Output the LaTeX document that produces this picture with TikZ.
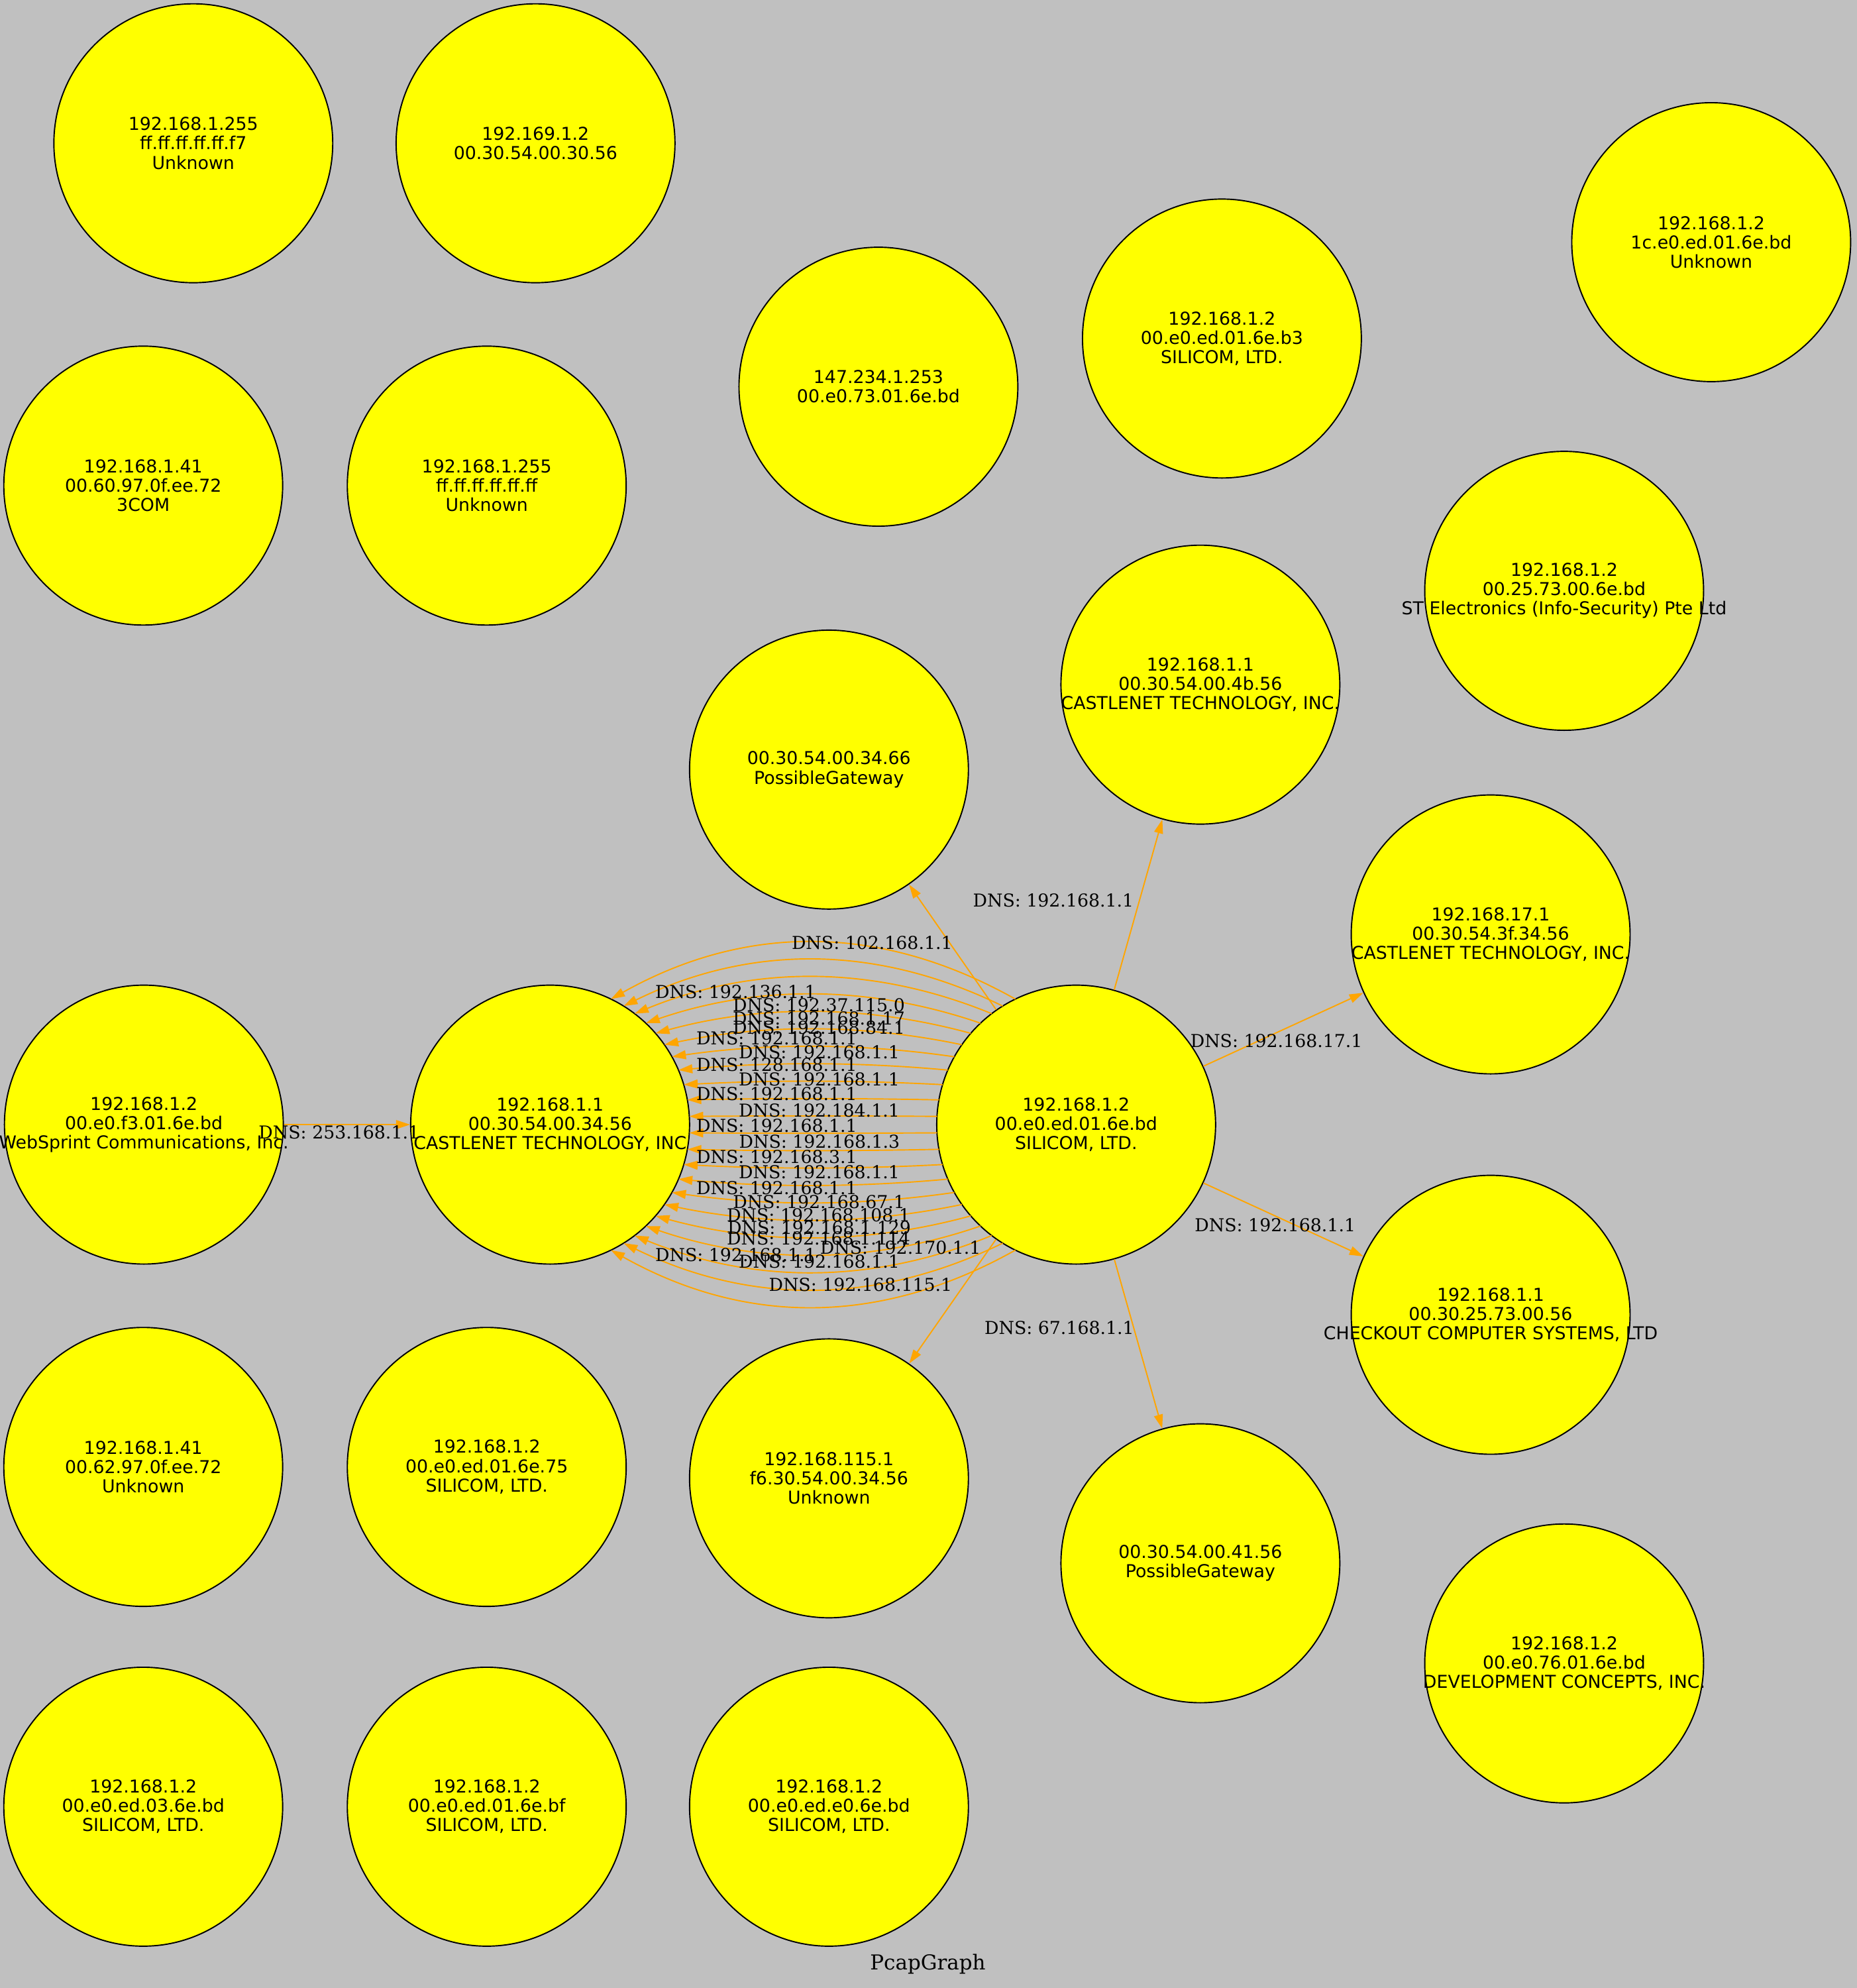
\documentclass[tikz,border=0pt]{standalone}
\usepackage{fontspec}
\setmainfont{DejaVu Sans}
\newfontfamily\lblfont{DejaVu Serif}
\usetikzlibrary{arrows.meta,calc}
\definecolor{bggray}{HTML}{C0C0C0}
\definecolor{nodeyellow}{HTML}{FFFF00}
\definecolor{edgeorange}{HTML}{FFA500}
\tikzset{
 hosttext/.style={align=center,inner sep=0pt,font=\fontsize{14}{15.2}\selectfont},
 host/.style={circle,draw=black,line width=1pt,fill=nodeyellow,minimum size=220pt,inner sep=0pt,
   label={[hosttext]center:#1}},
 dns/.style={draw=edgeorange,line width=1pt,-{Triangle[length=11pt,width=7pt]}},
 dnslabel/.style={font=\lblfont\fontsize{14}{15}\selectfont,inner sep=0pt},
 titlelabel/.style={font=\lblfont\fontsize{16.2}{17}\selectfont,inner sep=0pt},
}
\begin{document}
\begin{tikzpicture}[x=1pt,y=-1pt]
\fill[bggray] (0,0) rectangle (1465,1568);
\useasboundingbox (0,0) rectangle (1465,1568);
% hosts
\node[host={192.168.1.255\\ff.ff.ff.ff.ff.f7\\Unknown}] (n1) at (152.5,113) {};
\node[host={192.169.1.2\\00.30.54.00.30.56}] (n2) at (422.5,113) {};
\node[host={192.168.1.2\\1c.e0.ed.01.6e.bd\\Unknown}] (n3) at (1350,191) {};
\node[host={192.168.1.2\\00.e0.ed.01.6e.b3\\SILICOM, LTD.}] (n4) at (964,267) {};
\node[host={147.234.1.253\\00.e0.73.01.6e.bd}] (n5) at (693,305) {};
\node[host={192.168.1.41\\00.60.97.0f.ee.72\\3COM}] (n6) at (113,383) {};
\node[host={192.168.1.255\\ff.ff.ff.ff.ff.ff\\Unknown}] (n7) at (384,383) {};
\node[host={192.168.1.2\\00.25.73.00.6e.bd\\ST Electronics (Info-Security) Pte Ltd}] (n8) at (1234,466) {};
\node[host={192.168.1.1\\00.30.54.00.4b.56\\CASTLENET TECHNOLOGY, INC.}] (n9) at (947,540) {};
\node[host={00.30.54.00.34.66\\PossibleGateway}] (n10) at (654,607) {};
\node[host={192.168.17.1\\00.30.54.3f.34.56\\CASTLENET TECHNOLOGY, INC.}] (n11) at (1176,737) {};
\node[host={192.168.1.2\\00.e0.f3.01.6e.bd\\WebSprint Communications, Inc.}] (n12) at (113.5,887) {};
\node[host={192.168.1.1\\00.30.54.00.34.56\\CASTLENET TECHNOLOGY, INC}] (n13) at (434,887) {};
\node[host={192.168.1.2\\00.e0.ed.01.6e.bd\\SILICOM, LTD.}] (n14) at (849,887) {};
\node[host={192.168.1.1\\00.30.25.73.00.56\\CHECKOUT COMPUTER SYSTEMS, LTD}] (n15) at (1176,1037) {};
\node[host={192.168.1.41\\00.62.97.0f.ee.72\\Unknown}] (n16) at (113,1157) {};
\node[host={192.168.1.2\\00.e0.ed.01.6e.75\\SILICOM, LTD.}] (n17) at (384,1157) {};
\node[host={192.168.115.1\\f6.30.54.00.34.56\\Unknown}] (n18) at (654,1166) {};
\node[host={00.30.54.00.41.56\\PossibleGateway}] (n19) at (947,1233) {};
\node[host={192.168.1.2\\00.e0.76.01.6e.bd\\DEVELOPMENT CONCEPTS, INC.}] (n20) at (1234,1312) {};
\node[host={192.168.1.2\\00.e0.ed.03.6e.bd\\SILICOM, LTD.}] (n21) at (113,1425) {};
\node[host={192.168.1.2\\00.e0.ed.01.6e.bf\\SILICOM, LTD.}] (n22) at (384,1425) {};
\node[host={192.168.1.2\\00.e0.ed.e0.6e.bd\\SILICOM, LTD.}] (n23) at (654,1425) {};
% straight edges
\draw[dns] (n14) -- (n10);
\draw[dns] (n14) -- (n9);
\draw[dns] (n14) -- (n11);
\draw[dns] (n14) -- (n15);
\draw[dns] (n14) -- (n19);
\draw[dns] (n14) -- (n18);
\draw[dns] (n12) -- (n13);
% bundle of curved edges n14 -> n13
\foreach \e/\p in {-6.5/-6.8,-19.5/-20.5,-31.5/-34.2,-43/-47.9,-53.5/-61.6,-63/-75.3,-72/-89,-80/-102.7,-87.5/-116.4,-93.5/-130.1,-99/-143.8,
                   6.5/6.8,19.5/20.5,31.5/34.2,43/47.9,53.5/61.6,63/75.3,72/89,80/102.7,87.5/116.4,93.5/130.1,99/143.8}{
  \pgfmathsetmacro\dx{sqrt(110*110-\e*\e)}
  \pgfmathsetmacro\h{(415-2*\dx)/3}
  \pgfmathsetmacro\q{4*(\p-\e)/3}
  \draw[dns] ($(n14.center)+(-\dx,\e)$) .. controls +(-\h,\q) and +(\h,\q) .. ($(n13.center)+(\dx,\e)$);
}
% labels
\node[dnslabel] (l1) at (688,743.7) {DNS: 102.168.1.1};
\node[dnslabel] (l2) at (580.4,782.2) {DNS: 192.136.1.1};
\node[dnslabel] (l3) at (646,793) {DNS: 192.37.115.0};
\node[dnslabel] (l4) at (646,803.4) {DNS: 192.168.1.17};
\node[dnslabel] (l5) at (646,810.4) {DNS: 192.168.84.1};
\node[dnslabel] (l6) at (612.8,819.1) {DNS: 192.168.1.1};
\node[dnslabel] (l7) at (646.3,829.6) {DNS: 192.168.1.1};
\node[dnslabel] (l8) at (612.8,840) {DNS: 128.168.1.1};
\node[dnslabel] (l9) at (646.3,851.4) {DNS: 192.168.1.1};
\node[dnslabel] (l10) at (612.8,862.7) {DNS: 192.168.1.1};
\node[dnslabel] (l11) at (646.3,875.8) {DNS: 192.184.1.1};
\node[dnslabel] (l12) at (612.8,888) {DNS: 192.168.1.1};
\node[dnslabel] (l13) at (646.5,900.2) {DNS: 192.168.1.3};
\node[dnslabel] (l14) at (612.8,912.4) {DNS: 192.168.3.1};
\node[dnslabel] (l15) at (646.3,924.6) {DNS: 192.168.1.1};
\node[dnslabel] (l16) at (612.8,936.8) {DNS: 192.168.1.1};
\node[dnslabel] (l17) at (646.1,948.1) {DNS: 192.168.67.1};
\node[dnslabel] (l18) at (645.8,958.5) {DNS: 192.168.108.1};
\node[dnslabel] (l19) at (646.3,968.1) {DNS: 192.168.1.129};
\node[dnslabel] (l20) at (645.8,976.8) {DNS: 192.168.1.114};
\node[dnslabel] (l21) at (710.4,983.8) {DNS: 192.170.1.1};
\node[dnslabel] (l22) at (580.4,989.9) {DNS: 192.168.1.1};
\node[dnslabel] (l23) at (646.3,995.2) {DNS: 192.168.1.1};
\node[dnslabel] (l24) at (678.9,1013.4) {DNS: 192.168.115.1};
\node[dnslabel] (l25) at (831,710.2) {DNS: 192.168.1.1};
\node[dnslabel] (l26) at (1007,821) {DNS: 192.168.17.1};
\node[dnslabel] (l27) at (1006,966.4) {DNS: 192.168.1.1};
\node[dnslabel] (l28) at (835.7,1047.4) {DNS: 67.168.1.1};
\node[dnslabel] (l29) at (267.5,893.2) {DNS: 253.168.1.1};
\node[titlelabel] (title) at (732,1549) {PcapGraph};
\end{tikzpicture}
\end{document}
